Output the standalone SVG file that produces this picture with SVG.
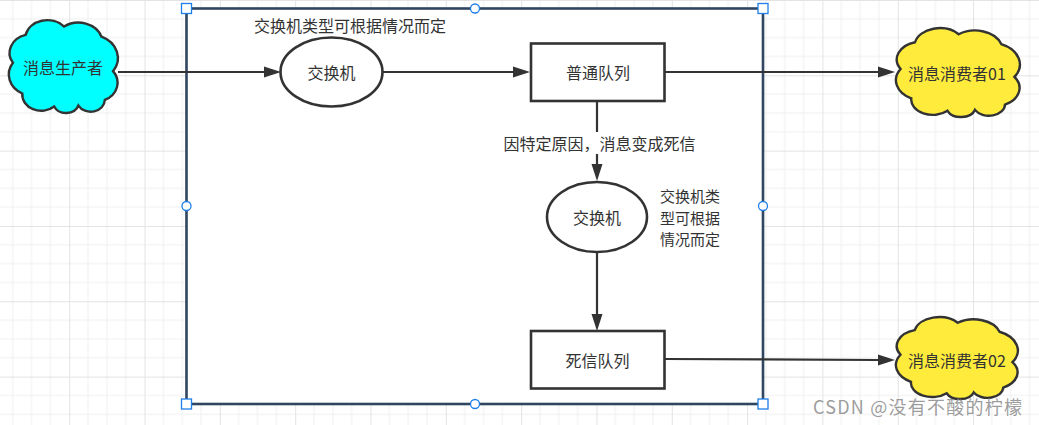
<svg xmlns="http://www.w3.org/2000/svg" xmlns:xlink="http://www.w3.org/1999/xlink" width="1039" height="425" viewBox="0 0 1039 425">
<style>
  text { font-family: "Noto Sans CJK SC", "Liberation Sans", sans-serif; font-size: 16px; fill: #333; }
  .c { text-anchor: middle; dominant-baseline: central; }
  .l { text-anchor: start; dominant-baseline: central; font-size: 15px; }
  .shape { fill: #fff; stroke: #333; stroke-width: 2.6; }
  .edge { fill: none; stroke: #333; stroke-width: 2.2; }
  .handle { fill: #fff; stroke: #1f7fe8; stroke-width: 1.3; }
  .cloudp { stroke: #333; stroke-width: 2.4; }
</style>
<defs>
  <pattern id="grid" patternUnits="userSpaceOnUse" x="-6.1" y="0" width="75.32" height="75.32">
    <path d="M18.83,0V75.32M37.66,0V75.32M56.49,0V75.32M0,18.83H75.32M0,37.66H75.32M0,56.49H75.32" stroke="#efefef" stroke-width="1" fill="none"/>
    <path d="M0.5,0V75.32M0,0.5H75.32" stroke="#e3e3e3" stroke-width="1" fill="none"/>
  </pattern>
  <marker id="arr" markerUnits="userSpaceOnUse" viewBox="0 -6 17 12" refX="0" refY="0" markerWidth="17" markerHeight="12" orient="auto">
    <path d="M0,-5.5 L17,0 L0,5.5 Z" fill="#333"/>
  </marker>
  <path id="cloud" vector-effect="non-scaling-stroke" d="M4.5,46 A20.1,20.1 0 0 1 16,16 A20.3,20.3 0 0 1 51,7 A22.2,22.2 0 0 1 85,18 A25,25 0 0 1 95.5,55 A20.7,20.7 0 0 1 88,86 A12.8,12.8 0 0 1 64,92 A11.8,11.8 0 0 1 42,93 A17.3,17.3 0 0 1 13,79 A23.1,23.1 0 0 1 4.5,46 Z"/>
</defs>

<rect x="0" y="0" width="1039" height="425" fill="#fff"/>
<rect x="0" y="0" width="1039" height="425" fill="url(#grid)"/>

<g id="frame">
  <rect x="186.5" y="8.5" width="576.5" height="395.5" fill="#fff" stroke="#2f4560" stroke-width="2.6"/>
</g>

<g id="connectors">
  <path class="edge" d="M118,72 H264" marker-end="url(#arr)"/>
  <path class="edge" d="M383,72 H513" marker-end="url(#arr)"/>
  <path class="edge" d="M665,72 H878" marker-end="url(#arr)"/>
  <path class="edge" d="M597,101 V164" marker-end="url(#arr)"/>
  <path class="edge" d="M597,252 V314" marker-end="url(#arr)"/>
  <path class="edge" d="M665,359 L878,360" marker-end="url(#arr)"/>
  <rect x="502" y="132" width="196" height="22" fill="#fff"/>
  <text class="c" x="599.5" y="143">因特定原因，消息变成死信</text>
</g>

<g id="producer">
  <use xlink:href="#cloud" class="cloudp" fill="#00ffff" transform="translate(8,20) scale(1.1,0.93)"/>
  <text class="c" x="63" y="67">消息生产者</text>
</g>

<g id="note-top">
  <text class="c" x="350" y="25">交换机类型可根据情况而定</text>
</g>

<g id="exchange1">
  <ellipse class="shape" cx="331.5" cy="72" rx="51" ry="34.5"/>
  <text class="c" x="331.5" y="72">交换机</text>
</g>

<g id="queue-normal">
  <rect class="shape" x="531" y="43.5" width="133.5" height="57.5"/>
  <text class="c" x="598" y="72">普通队列</text>
</g>

<g id="consumer01">
  <use xlink:href="#cloud" class="cloudp" fill="#ffeb3b" transform="translate(895,28) scale(1.25,0.89)"/>
  <text class="c" x="957" y="73">消息消费者01</text>
</g>

<g id="exchange2">
  <ellipse class="shape" cx="597" cy="217" rx="50" ry="35"/>
  <text class="c" x="597" y="217">交换机</text>
</g>

<g id="note-side">
  <text class="l" x="660" y="195.2">交换机类</text>
  <text class="l" x="660" y="217">型可根据</text>
  <text class="l" x="660" y="238.8">情况而定</text>
</g>

<g id="queue-dead">
  <rect class="shape" x="531" y="331" width="133.5" height="57.5"/>
  <text class="c" x="597.5" y="359.5">死信队列</text>
</g>

<g id="consumer02">
  <use xlink:href="#cloud" class="cloudp" fill="#ffeb3b" transform="translate(895,317) scale(1.23,0.82)"/>
  <text class="c" x="957" y="360">消息消费者02</text>
</g>

<g id="handles">
  <rect class="handle" x="181.5" y="3.5" width="10" height="10"/>
  <rect class="handle" x="758" y="3.5" width="10" height="10"/>
  <rect class="handle" x="181.5" y="399" width="10" height="10"/>
  <rect class="handle" x="758" y="399" width="10" height="10"/>
  <circle class="handle" cx="475" cy="8.5" r="4.5"/>
  <circle class="handle" cx="475" cy="404" r="4.5"/>
  <circle class="handle" cx="186.5" cy="206" r="4.5"/>
  <circle class="handle" cx="763" cy="206" r="4.5"/>
</g>

<text x="813" y="406" dominant-baseline="central" textLength="209" style="font-size:18px; fill:#8a8a8a; fill-opacity:0.85;">CSDN @没有不酸的柠檬</text>
</svg>
